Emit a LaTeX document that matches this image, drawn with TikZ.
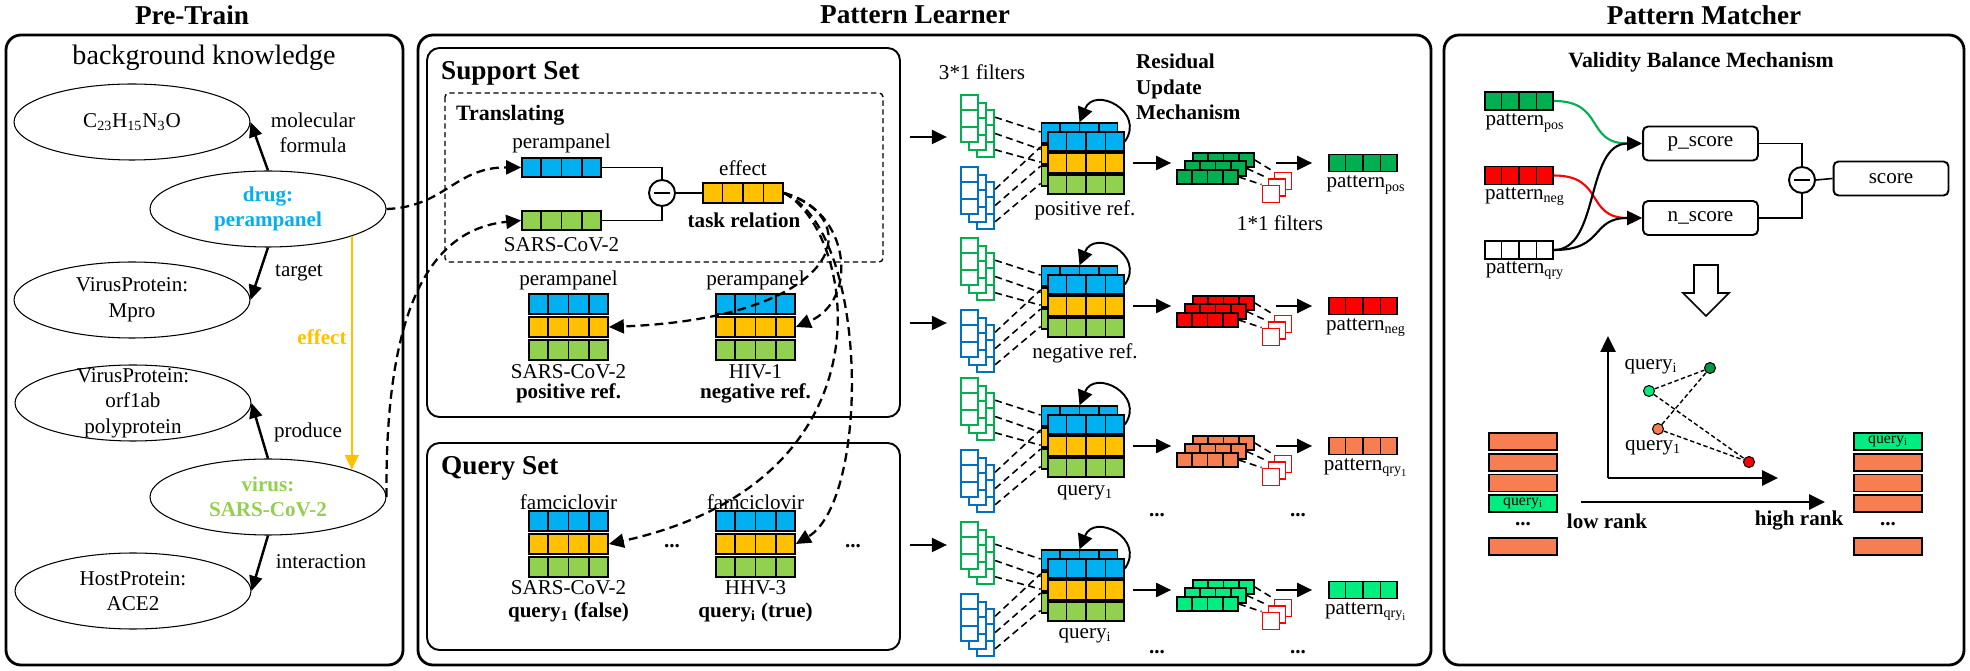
\documentclass[tikz,border=0pt]{standalone}
\usepackage{fontspec}
\setmainfont{Liberation Serif}
\usepackage{tikz}
\usepackage{xcolor}
\usetikzlibrary{shapes,arrows,arrows.meta,positioning,calc}
\definecolor{drugblue}{RGB}{0,176,240}
\definecolor{effyellow}{RGB}{255,192,0}
\definecolor{virusgreen}{RGB}{146,208,80}
\definecolor{posgreen}{RGB}{0,176,80}
\definecolor{negred}{RGB}{255,0,0}
\definecolor{qryorange}{RGB}{247,126,80}
\definecolor{qrygreen}{RGB}{0,238,128}
\definecolor{filtgreen}{RGB}{0,176,80}
\definecolor{filtblue}{RGB}{0,112,192}
\definecolor{dotgreen}{RGB}{0,150,70}

% 4-cell vector: name, x, y, fill, cell width, cell height
\newcommand{\vecbar}[6]{%
  \node[vecbox, fill=#4, minimum width=#5*0.08cm, minimum height=#6*0.02cm] (#1) at (#2,#3) {};
  \foreach \kk in {1,2,3}
    \draw[vecline] ($(#1.south west)!\kk/4!(#1.south east)$) -- ($(#1.north west)!\kk/4!(#1.north east)$);
}
% drug / relation / virus triple
\newcommand{\refblock}[3]{%
  \vecbar{#1b}{#2}{#3-23}{drugblue}{19.75}{19.5}
  \vecbar{#1y}{#2}{#3}{effyellow}{19.75}{19.5}
  \vecbar{#1g}{#2}{#3+23}{virusgreen}{19.75}{19.5}
}
% triple with a copy behind it
\newcommand{\resblock}[3]{%
  \vecbar{#1-k1}{#2-6.5}{#3-30}{drugblue}{19}{19.5}
  \vecbar{#1-k2}{#2-6.5}{#3-8.5}{effyellow}{19}{19.5}
  \vecbar{#1-k3}{#2-6.5}{#3+13}{virusgreen}{19}{19.5}
  \vecbar{#1-1}{#2}{#3-21.5}{drugblue}{19}{19.5}
  \vecbar{#1-2}{#2}{#3}{effyellow}{19}{19.5}
  \vecbar{#1-3}{#2}{#3+21.5}{virusgreen}{19}{19.5}
}
% three 3*1 filters
\newcommand{\filtstack}[4]{%
  \foreach \j/\dx/\dy in {3/16/15,2/8/8,1/0/0} {
    \node[filtbox, draw=#4] (#1-\j) at (#2+\dx+8.5,#3+\dy+23.5) {};
    \foreach \hh in {1,2}
      \draw[#4, line width=1.3pt] ($(#1-\j.north west)!\hh/3!(#1-\j.south west)$) -- ($(#1-\j.north east)!\hh/3!(#1-\j.south east)$);
  }
}
% three feature maps
\newcommand{\featstack}[4]{%
  \vecbar{#1-3}{#2+16}{#3-17}{#4}{15.25}{14.5}
  \vecbar{#1-2}{#2+8}{#3-8.5}{#4}{15.25}{14.5}
  \vecbar{#1-1}{#2}{#3}{#4}{15.25}{14.5}
}
% three 1*1 filters
\newcommand{\onebyone}[3]{%
  \node[onebox] (#1-3) at (#2+12,#3-13) {};
  \node[onebox] (#1-2) at (#2+6,#3-6.5) {};
  \node[onebox] (#1-1) at (#2,#3) {};
}

\begin{document}
\begin{tikzpicture}[
    x=0.02cm, y=-0.02cm,
    every node/.style={font=\fontsize{12}{14.5}\selectfont},
    paneltitle/.style={font=\fontsize{15.5}{18}\selectfont\bfseries},
    settitle/.style={font=\fontsize{15.5}{18}\selectfont\bfseries, anchor=west},
    boldlabel/.style={font=\fontsize{12}{14.5}\selectfont\bfseries},
    dots/.style={inner sep=0pt, font=\fontsize{12}{14.5}\selectfont\bfseries},
    panelbox/.style={draw, line width=1.6pt, rounded corners=0.3cm},
    setbox/.style={draw, line width=1.1pt, rounded corners=0.25cm},
    transbox/.style={draw, line width=0.8pt, rounded corners=0.08cm, dash pattern=on 3pt off 2pt},
    kgnode/.style={
        ellipse, draw, line width=0.6pt,
        minimum width=4.72cm, minimum height=1.52cm,
        inner sep=0pt, align=center
    },
    vecbox/.style={rectangle, draw, line width=1pt, inner sep=0pt},
    vecline/.style={line width=1pt},
    filtbox/.style={
        rectangle, fill=white, line width=1.3pt,
        minimum width=0.34cm, minimum height=0.94cm, inner sep=0pt
    },
    onebox/.style={rectangle, draw=negred, fill=white, line width=1.1pt, minimum size=0.34cm, inner sep=0pt},
    minuscircle/.style={
        circle, draw, line width=1.1pt, minimum size=0.52cm, inner sep=0pt,
        path picture={\draw[line width=1.5pt] ([xshift=0.1cm]path picture bounding box.west) -- ([xshift=-0.1cm]path picture bounding box.east);}
    },
    scorebox/.style={rectangle, rounded corners=0.1cm, draw, line width=1.1pt, minimum width=2.3cm, minimum height=0.68cm},
    rankbox/.style={rectangle, draw, line width=1.1pt, minimum width=1.36cm, minimum height=0.34cm, inner sep=0pt},
    scatterdot/.style={circle, draw, line width=0.6pt, minimum size=0.22cm, inner sep=0pt},
    thinline/.style={line width=0.9pt},
    arrow/.style={-{Triangle[length=0.3cm,width=0.28cm]}, line width=1.2pt},
    kgarrow/.style={-{Triangle[length=0.3cm,width=0.26cm]}, line width=1.4pt},
    effarrow/.style={-{Triangle[length=0.3cm,width=0.28cm]}, line width=1.1pt, draw=effyellow},
    looparrow/.style={-{Triangle[length=0.3cm,width=0.3cm]}, line width=1.1pt},
    curvearrow/.style={-{Triangle[length=0.3cm,width=0.28cm]}, line width=1.2pt},
    axisarrow/.style={-{Triangle[length=0.32cm,width=0.3cm]}, line width=1.5pt},
    dasharrow/.style={-{Triangle[length=0.3cm,width=0.28cm]}, line width=1.3pt, dash pattern=on 5pt off 3pt},
    filtdash/.style={line width=0.9pt, dash pattern=on 4pt off 2.5pt},
    dotdash/.style={line width=0.8pt, dash pattern=on 2.5pt off 1.5pt}
]
\useasboundingbox (0,0) rectangle (1970,671);

% Pre-Train
\draw[panelbox] (6,35) rectangle (403,665);
\node[paneltitle] (pretitle) at (192,15) {Pre-Train};
\node[font=\fontsize{16}{18}\selectfont] (bk) at (204,58) {background knowledge};

\node[kgnode] (formula) at (132,122) {C\textsubscript{23}H\textsubscript{15}N\textsubscript{3}O};
\node[kgnode, text=drugblue, font=\fontsize{12}{14.5}\selectfont\bfseries] (drug) at (268,209) {drug:\\perampanel};
\node[kgnode] (mpro) at (132,300) {VirusProtein:\\Mpro};
\node[kgnode, inner ysep=-8pt] (orf) at (133,403) {VirusProtein:\\orf1ab\\polyprotein};
\node[kgnode, text=virusgreen, font=\fontsize{12}{14.5}\selectfont\bfseries] (virus) at (268,497) {virus:\\SARS-CoV-2};
\node[kgnode] (ace) at (133,591) {HostProtein:\\ACE2};

\node[align=center] (molf) at (313,133) {molecular\\formula};
\node (target) at (299,273) {target};
\node (produce) at (308,432) {produce};
\node (interact) at (321,562) {interaction};
\node[boldlabel, text=effyellow] (efflab) at (322,337) {effect};

\draw[kgarrow] (drug.north) -- (formula.east);
\draw[kgarrow] (drug.south) -- (mpro.east);
\draw[kgarrow] (virus.north) -- (orf.east);
\draw[kgarrow] (virus.south) -- (ace.east);
\draw[effarrow] (drug.-18) -- (virus.18);

% Pattern Learner
\draw[panelbox] (418,35) rectangle (1431,665);
\node[paneltitle] (learntitle) at (915,15) {Pattern Learner};

% Support Set
\draw[setbox] (427,48) rectangle (900,417);
\node[settitle] (suptitle) at (435,73) {Support Set};
\draw[transbox] (445,93) rectangle (883,262);
\node[font=\fontsize{12.5}{15}\selectfont\bfseries, anchor=west] (translab) at (450,115) {Translating};

\vecbar{tdrug}{561.5}{167.5}{drugblue}{19.75}{19}
\vecbar{tvirus}{561.5}{220.5}{virusgreen}{19.75}{19}
\node (tdruglab) at (561.5,143) {perampanel};
\node (tviruslab) at (561.5,245) {SARS-CoV-2};
\node[minuscircle] (sub1) at (662,193) {};
\vecbar{eff}{743}{193}{effyellow}{20}{20}
\node (efftop) at (743,168) {effect};
\node[boldlabel] (task) at (744,220) {task relation};
\draw[thinline] (tdrug.east) -| (sub1.north);
\draw[thinline] (tvirus.east) -| (sub1.south);
\draw[thinline] (sub1.east) -- (eff.west);

\refblock{posref}{568.5}{327}
\refblock{negref}{755.5}{327}
\node (posdrug) at (568.5,280) {perampanel};
\node (negdrug) at (755.5,280) {perampanel};
\node (posvirus) at (568.5,372) {SARS-CoV-2};
\node (negvirus) at (755.5,372) {HIV-1};
\node[boldlabel] (poslab) at (568.5,393) {positive ref.};
\node[boldlabel] (neglab) at (755.5,393) {negative ref.};

% Query Set
\draw[setbox] (427,443) rectangle (900,650);
\node[settitle] (qrytitle) at (435,468) {Query Set};
\refblock{qryone}{568.5}{544}
\refblock{qryi}{755.5}{544}
\node (q1drug) at (568.5,502) {famciclovir};
\node (qidrug) at (755.5,502) {famciclovir};
\node (q1virus) at (568.5,588) {SARS-CoV-2};
\node (qivirus) at (755.5,588) {HHV-3};
\node[boldlabel] (q1lab) at (568.5,612) {query\textsubscript{1} (false)};
\node[boldlabel] (qilab) at (755.5,612) {query\textsubscript{i} (true)};
\node[dots] (qdots1) at (672,546) {...};
\node[dots] (qdots2) at (853,546) {...};

% dashed links
\draw[dasharrow] (drug.east) .. controls (445,207) and (455,167) .. (tdrug.west);
\draw[dasharrow] (virus.east) .. controls (385,330) and (420,230) .. (tvirus.west);
\draw[dasharrow] (eff.east) .. controls (870,220) and (840,318) .. (posrefy.east);
\draw[dasharrow] (eff.east) .. controls (850,210) and (860,300) .. (negrefy.east);
\draw[dasharrow] (eff.east) .. controls (855,230) and (900,480) .. (qryoney.east);
\draw[dasharrow] (eff.east) .. controls (870,230) and (870,500) .. (qryiy.east);

% inputs to the filters
\coordinate (inpos) at (910,137);
\coordinate (inneg) at (910,323);
\coordinate (inqry) at (910,545);

% filters, residual update, 1*1 filters, patterns
\foreach \rw/\cy/\col in {pos/163/posgreen, neg/306/negred, qa/446/qryorange, qb/590/qrygreen} {
  \filtstack{\rw G}{961}{\cy-68}{filtgreen}
  \filtstack{\rw B}{961}{\cy+4}{filtblue}
  \resblock{\rw R}{1086}{\cy}
  \foreach \f/\t in {0.17/0.15, 0.5/0.42, 0.83/0.62}
    \draw[filtdash] ($(\rw G-3.north east)!\f!(\rw G-3.south east)$) -- ($(\rw R-k1.north west)!\t!(\rw R-k3.south west)$);
  \foreach \f/\t in {0.17/0.38, 0.5/0.68, 0.83/0.95}
    \draw[filtdash] ($(\rw B-3.north east)!\f!(\rw B-3.south east)$) -- ($(\rw R-k1.north west)!\t!(\rw R-k3.south west)$);
  \draw[looparrow] (\rw R-1.east) .. controls +(21,-30) and +(15,-37) .. (\rw R-k1.north);
  \featstack{\rw F}{1207.5}{\cy+14}{\col}
  \onebyone{\rw S}{1271}{\cy+31}
  \foreach \kk in {1,2,3}
    \draw[filtdash] (\rw F-\kk.east) -- (\rw S-\kk.north west);
  \vecbar{\rw P}{1363}{\cy}{\col}{17}{17}
  \draw[arrow, shorten <=0.16cm, shorten >=0.1cm] (\rw R-2.east) -- (\rw F-1.west |- \rw R-2.east);
  \draw[arrow, shorten <=0.42cm, shorten >=0.32cm] (\rw F-3.east |- \rw P.west) -- (\rw P.west);
}

\draw[arrow, shorten >=0.26cm] (inpos) -- (inpos -| posG-1.west);
\draw[arrow, shorten >=0.26cm] (inneg) -- (inneg -| negG-1.west);
\draw[arrow, shorten >=0.26cm] (inqry) -- (inqry -| qbG-1.west);

\node (filt3) at (982,72) {3*1 filters};
\node[boldlabel, align=left, anchor=west] (resmech) at (1130,87) {Residual\\Update\\Mechanism};
\node (filt1) at (1280,223) {1*1 filters};

\node (posreflab) at (1085,210) {positive ref.};
\node (negreflab) at (1085,353) {negative ref.};
\node (qaref) at (1085,493) {query\textsubscript{1}};
\node (qbref) at (1085,636) {query\textsubscript{i}};

\node (ppos) at (1366,185) {pattern\textsubscript{pos}};
\node (pneg) at (1366,328) {pattern\textsubscript{neg}};
\node (pqa) at (1366,468) {pattern\textsubscript{qry\textsubscript{1}}};
\node (pqb) at (1366,612) {pattern\textsubscript{qry\textsubscript{i}}};

\node[dots] (ldots1) at (1157,515) {...};
\node[dots] (ldots2) at (1298,515) {...};
\node[dots] (ldots3) at (1157,652) {...};
\node[dots] (ldots4) at (1298,652) {...};

% Pattern Matcher
\draw[panelbox] (1444,35) rectangle (1964,665);
\node[paneltitle] (matchtitle) at (1704,15) {Pattern Matcher};
\node[font=\fontsize{12.4}{15}\selectfont\bfseries] (vbm) at (1701,62) {Validity Balance Mechanism};

\vecbar{mpos}{1519}{101}{posgreen}{17}{18}
\vecbar{mneg}{1519}{175.5}{negred}{17}{18}
\vecbar{mqry}{1519}{250}{white}{17}{18}
\node (mposlab) at (1525,123) {pattern\textsubscript{pos}};
\node (mneglab) at (1525,197) {pattern\textsubscript{neg}};
\node (mqrylab) at (1525,271) {pattern\textsubscript{qry}};

\node[scorebox] (pscore) at (1700.5,143.5) {p\_score};
\node[scorebox] (nscore) at (1700.5,218) {n\_score};
\node[minuscircle] (sub2) at (1802,180) {};
\node[scorebox] (score) at (1891,178.5) {score};
\draw[thinline] (pscore.east) -| (sub2.north);
\draw[thinline] (nscore.east) -| (sub2.south);
\draw[thinline] (sub2.east) -- (score.west);

\draw[curvearrow, posgreen] (mpos.east) .. controls (1605,101) and (1585,143.5) .. (pscore.west);
\draw[curvearrow, negred] (mneg.east) .. controls (1605,175.5) and (1585,218) .. (nscore.west);
\draw[curvearrow] (mqry.east) .. controls (1600,250) and (1585,143.5) .. (pscore.west);
\draw[curvearrow] (mqry.east) .. controls (1605,250) and (1590,218) .. (nscore.west);

% hollow arrow
\draw[line width=0.9pt, fill=white] (1694,265) -- (1718,265) -- (1718,293) -- (1729,293)
    -- (1706,316) -- (1683,293) -- (1694,293) -- cycle;

% embedding space
\coordinate (origin) at (1608,478);
\coordinate (ytip) at (1608,336);
\coordinate (xtip) at (1778,478);
\draw[axisarrow] (origin) -- (ytip);
\draw[axisarrow] (origin) -- (xtip);
\node[scatterdot, fill=dotgreen] (ppt) at (1710,368) {};
\node[scatterdot, fill=qrygreen] (qipt) at (1649,391) {};
\node[scatterdot, fill=qryorange] (q1pt) at (1658,429) {};
\node[scatterdot, fill=negred] (npt) at (1749,462) {};
\draw[dotdash] (qipt) -- (ppt);
\draw[dotdash] (qipt) -- (npt);
\draw[dotdash] (q1pt) -- (ppt);
\draw[dotdash] (q1pt) -- (npt);
\node (qiname) at (1651,367) {query\textsubscript{i}};
\node (q1name) at (1653,448) {query\textsubscript{1}};

% ranking lists
\foreach \nm/\yy in {la/441.5, lb/462.5, lc/483, ld/546.5}
  \node[rankbox, fill=qryorange] (\nm) at (1523,\yy) {};
\node[rankbox, fill=qrygreen, font=\fontsize{9}{10}\selectfont] (lq) at (1523,503.5) {query\textsubscript{i}};
\node[dots] (lldots) at (1523,524) {...};
\foreach \nm/\yy in {rb/462.5, rc/483, rd/503.5, re/546.5}
  \node[rankbox, fill=qryorange] (\nm) at (1888,\yy) {};
\node[rankbox, fill=qrygreen, font=\fontsize{9}{10}\selectfont] (rq) at (1888,441.5) {query\textsubscript{i}};
\node[dots] (rrdots) at (1888,524) {...};

\coordinate (rlow) at (1581,502);
\coordinate (rhigh) at (1825,502);
\draw[axisarrow] (rlow) -- (rhigh);
\node[boldlabel] (lowrank) at (1607,521) {low rank};
\node[boldlabel] (highrank) at (1799,521) {high rank};

\end{tikzpicture}
\end{document}
